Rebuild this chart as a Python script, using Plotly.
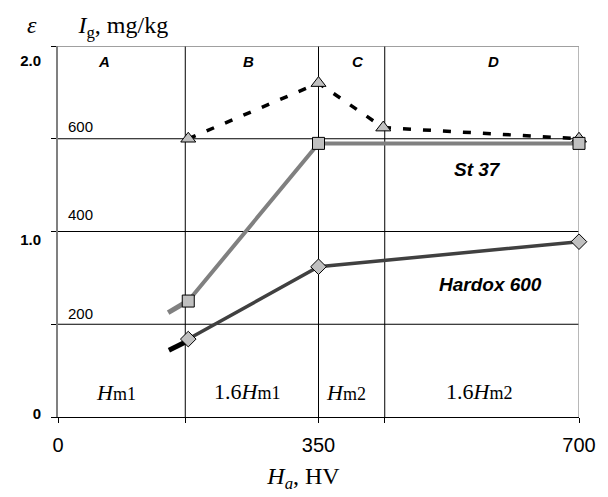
import plotly.graph_objects as go

# ---- data ----
hardness_ha = [175, 350, 700]
hardox_600 = [0.42, 0.81, 0.945]
st_37 = [0.625, 1.475, 1.475]
tri_x = [175, 350, 437, 700]
tri_y = [1.50, 1.80, 1.56, 1.50]
hardox_stub_x = [149, 172]
hardox_stub_y = [0.36, 0.405]
st37_stub_x = [148, 174]
st37_stub_y = [0.563, 0.624]
zone_bounds = [171, 350, 439]
x_tickvals = [0, 350, 700]
x_ticktext = ["0", "350", "700"]
grid_eps = [0.5, 1.0, 1.5]
ig_labels = ["200", "400", "600"]
eps_label_pos = [0.015, 0.953, 1.921]
eps_labels = ["0", "1.0", "2.0"]
zone_letters = ["A", "B", "C", "D"]
zone_labels = ["<i>H</i>%s" % "<span style=\"font-size:18px\">m1</span>",
               "1.6<i>H</i>%s" % "<span style=\"font-size:18px\">m1</span>",
               "<i>H</i>%s" % "<span style=\"font-size:18px\">m2</span>",
               "1.6<i>H</i>%s" % "<span style=\"font-size:18px\">m2</span>"]

SANS = "Liberation Sans, Arial, sans-serif"
SERIF = "Liberation Serif, Times New Roman, serif"

fig = go.Figure()

fig.add_trace(go.Scatter(x=st37_stub_x, y=st37_stub_y, mode="lines",
                         line=dict(color="#808080", width=5), cliponaxis=False, showlegend=False))
fig.add_trace(go.Scatter(x=hardox_stub_x, y=hardox_stub_y, mode="lines",
                         line=dict(color="#000000", width=5), cliponaxis=False, showlegend=False))
fig.add_trace(go.Scatter(x=tri_x, y=tri_y, mode="lines+markers",
                         line=dict(color="#000000", width=3.5, dash="8px,12px"),
                         marker=dict(symbol="triangle-up", size=13, color="#c0c0c0",
                                     line=dict(color="#000000", width=1)),
                         cliponaxis=False, showlegend=False))
fig.add_trace(go.Scatter(x=hardness_ha, y=st_37, mode="lines+markers",
                         line=dict(color="#808080", width=4),
                         marker=dict(symbol="square", size=12, color="#c0c0c0",
                                     line=dict(color="#000000", width=1)),
                         cliponaxis=False, showlegend=False))
fig.add_trace(go.Scatter(x=hardness_ha, y=hardox_600, mode="lines+markers",
                         line=dict(color="#404040", width=3.5),
                         marker=dict(symbol="diamond", size=12, color="#c0c0c0",
                                     line=dict(color="#000000", width=1)),
                         cliponaxis=False, showlegend=False))
# empty trace so the overlay axes (extra ticks / epsilon labels) are drawn
fig.add_trace(go.Scatter(x=[], y=[], xaxis="x2", yaxis="y2", showlegend=False,
                         hoverinfo="skip"))

shapes = []
for g in grid_eps:
    shapes.append(dict(type="line", xref="x", yref="y", x0=0, x1=700, y0=g, y1=g,
                       line=dict(color="#000000", width=1), layer="between"))
for b in zone_bounds:
    shapes.append(dict(type="line", xref="x", yref="y", x0=b, x1=b, y0=0, y1=2,
                       line=dict(color="#000000", width=1), layer="between"))
shapes.append(dict(type="line", xref="x", yref="y", x0=0, x1=700, y0=2, y1=2,
                   line=dict(color="#808080", width=1.5), layer="between"))
shapes.append(dict(type="line", xref="x", yref="y", x0=700, x1=700, y0=0, y1=2,
                   line=dict(color="#a0a0a0", width=1.5), layer="between"))

# plot area on screen: x 58..584, y 46..417 (page has an 8px body margin)
def P(px, py):
    return (px - 58) / 526.0, (417 - py) / 371.0

ann = []
def A(px, py, text, size, family, weight="normal", style="normal"):
    x, y = P(px, py)
    ann.append(dict(x=x, y=y, xref="paper", yref="paper", text=text, showarrow=False,
                    font=dict(size=size, family=family, color="#000000",
                              weight=weight, style=style),
                    xanchor="center", yanchor="middle"))

for lx, lt in zip([104, 250, 361, 498], zone_letters):
    A(lx, 61, lt, 15, SANS, weight="bold", style="italic")
for ly, lt in zip([313, 215, 126.7], ig_labels):
    A(81, ly, lt, 15, SANS)
A(481.5, 169, "St 37", 19, SANS, weight="bold", style="italic")
A(495, 284, "Hardox 600", 19, SANS, weight="bold", style="italic")
for (lx, ly), lt in zip([(116.5, 392), (249, 391), (349, 392), (483.5, 391)], zone_labels):
    A(lx, ly, lt, 22, SERIF)

fig.update_layout(
    width=600, height=489,
    margin=dict(l=50, r=24, t=38, b=80),
    plot_bgcolor="#ffffff", paper_bgcolor="#ffffff",
    shapes=shapes, annotations=ann,
    title=dict(text="<i>ε</i>" + "&nbsp;" * 7 + "<i>I</i><sub>g</sub>, mg/kg",
               font=dict(size=24, family=SERIF, color="#000000"),
               xref="container", x=(27 - 8) / 600.0, xanchor="left",
               yref="container", y=1 - (25 - 8) / 489.0, yanchor="middle"),
    xaxis=dict(range=[0, 700], showgrid=False, zeroline=False, showline=True,
               linecolor="#000000", linewidth=1, ticks="outside", ticklen=5,
               tickcolor="#000000", tickvals=x_tickvals, ticktext=x_ticktext,
               tickfont=dict(size=20, family=SANS, color="#000000"),
               ticklabelstandoff=5,
               title=dict(text="<i>H<sub>a</sub></i>, HV" + "&nbsp;" * 5,
                          font=dict(size=24, family=SERIF, color="#000000"),
                          standoff=12)),
    xaxis2=dict(range=[0, 700], overlaying="x", side="bottom", anchor="y",
                showgrid=False, zeroline=False, showline=False, ticks="outside",
                ticklen=5, tickcolor="#000000", tickvals=[zone_bounds[0], zone_bounds[2]],
                showticklabels=False),
    yaxis=dict(range=[0, 2], showgrid=False, zeroline=False, showline=True,
               linecolor="#808080", linewidth=2, ticks="outside", ticklen=5,
               tickcolor="#000000", tickvals=[0, 0.5, 1, 1.5, 2], showticklabels=False),
    yaxis2=dict(range=[0, 2], overlaying="y", side="left", anchor="x",
                showgrid=False, zeroline=False, showline=False, ticks="",
                tickvals=eps_label_pos, ticktext=eps_labels,
                tickfont=dict(size=15, family=SANS, color="#000000", weight="bold"),
                ticklabelstandoff=16),
)

fig.write_html("out.html")
